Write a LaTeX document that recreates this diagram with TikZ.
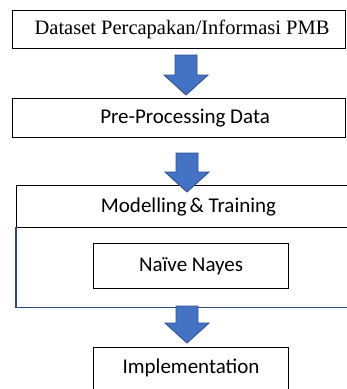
\documentclass[tikz,border=0pt]{standalone}
\usepackage{fontspec}
\setmainfont{Liberation Serif}
\newfontfamily\calibrifont{Carlito}
\usetikzlibrary{calc}
\definecolor{arrowfill}{HTML}{4472C4}
\definecolor{arrowline}{HTML}{2F528F}
\definecolor{navyline}{HTML}{2F4B7C}
% block arrow from a start coordinate (top of shaft) to a tip coordinate
\newcommand\drawblockarrow[2]{%
  \draw[blockarrow] ($(#1)+(-11,0)$) -- ($(#1)+(11,0)$) -- ($(#2)+(11,-20)$)
    -- ($(#2)+(22,-20)$) -- (#2) -- ($(#2)+(-22,-20)$) -- ($(#2)+(-11,-20)$) -- cycle;}
\begin{document}
\begin{tikzpicture}[x=1pt,y=-1pt,
  box/.style={draw=black, line width=1.1pt, fill=white, inner sep=0pt, anchor=north west},
  lbl/.style={font=\calibrifont\fontsize{21}{25}\selectfont, inner sep=0pt},
  serlbl/.style={font=\fontsize{20.5}{24}\selectfont, inner sep=0pt},
  blockarrow/.style={fill=arrowfill, draw=arrowline, line width=0.9pt, line join=miter}]
\useasboundingbox (0,0) rectangle (347,389);

% process boxes
\node[box, minimum width=333pt, minimum height=37.5pt] (dataset) at (12,10) {};
\node[serlbl] (datasettext) at ($(dataset.center)+(3,0)$) {Dataset Percapakan/Informasi PMB};

\node[box, minimum width=333pt, minimum height=39pt] (prep) at (12,98) {};
\node[lbl] (preptext) at ($(prep.center)+(6,0)$) {Pre-Processing Data};

% modelling container: header and body
\node[box, minimum width=340pt, minimum height=42pt] (model) at (16,185) {};
\node[lbl] (modeltext) at ($(model.center)+(2,0)$) {Modelling\hspace{-2pt} \& Training};
\node[inner sep=0pt, anchor=north west, minimum width=340pt, minimum height=80pt] (modelbody) at (16,227) {};
\draw[navyline, line width=1.2pt] (modelbody.north west) -- (modelbody.south west) -- (modelbody.south east);

\node[box, minimum width=195pt, minimum height=45pt] (naive) at (93,243) {};
\node[lbl] (naivetext) at (naive.center) {Naïve Nayes};

\node[box, minimum width=195pt, minimum height=52pt] (impl) at (93,347) {};
\node[lbl] (impltext) at ($(impl.north)+(0,21)$) {Implementation};

% block arrows between the stages
\coordinate (a1s) at (186,55);  \coordinate (a1e) at (186,95);
\coordinate (a2s) at (187,153); \coordinate (a2e) at (187,192);
\coordinate (a3s) at (187,306); \coordinate (a3e) at (187,343);
\drawblockarrow{a1s}{a1e}
\drawblockarrow{a2s}{a2e}
\drawblockarrow{a3s}{a3e}
\end{tikzpicture}
\end{document}
